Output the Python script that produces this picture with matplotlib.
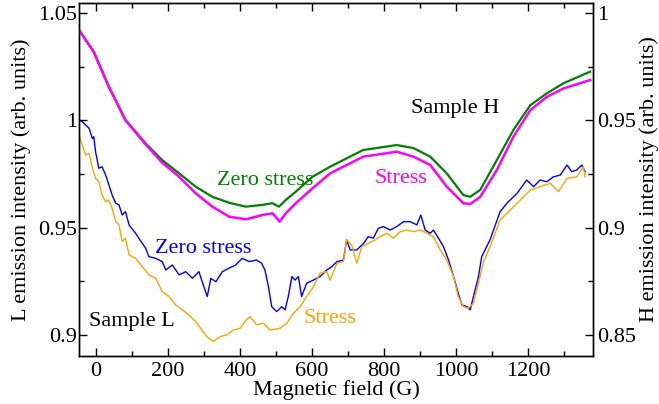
import matplotlib

matplotlib.use("Agg")

import matplotlib.pyplot as plt
from matplotlib.ticker import FuncFormatter, MultipleLocator

plt.rcParams["font.family"] = ["Liberation Serif", "DejaVu Serif"]
plt.rcParams["mathtext.fontset"] = "stix"

# Sample H (right axis), field in G
h_zero_x = [-47, -6, 36, 82, 138, 184, 231, 277, 323, 370, 416, 462, 490, 508,
            527, 555, 601, 650, 742, 835, 881, 928, 974, 1020, 1039, 1067,
            1113, 1159, 1206, 1252, 1298, 1372]
h_zero_y = [0.9921, 0.9820, 0.9657, 0.9502, 0.9393, 0.9315, 0.9253, 0.9191,
            0.9144, 0.9116, 0.9098, 0.9106, 0.9114, 0.9098, 0.9129, 0.9168,
            0.9237, 0.9284, 0.9362, 0.9385, 0.9371, 0.9331, 0.9253, 0.9152,
            0.9144, 0.9176, 0.9315, 0.9455, 0.9571, 0.9626, 0.9673, 0.9727]
h_stress_x = [-47, -6, 36, 82, 138, 184, 231, 277, 323, 370, 416, 462, 490,
              510, 527, 555, 601, 650, 742, 835, 881, 928, 974, 1020, 1039,
              1067, 1113, 1159, 1206, 1252, 1298, 1372]
h_stress_y = [0.9921, 0.9818, 0.9655, 0.9500, 0.9388, 0.9303, 0.9237, 0.9160,
              0.9098, 0.9051, 0.9039, 0.9059, 0.9067, 0.9028, 0.9067, 0.9114,
              0.9183, 0.9253, 0.9331, 0.9354, 0.9331, 0.9292, 0.9191, 0.9114,
              0.9110, 0.9144, 0.9269, 0.9424, 0.9548, 0.9610, 0.9649, 0.9688]

# Sample L (left axis)
l_zero_x = [-47, -38, -19, -10, -6, -1, 8, 17, 27, 36, 45, 55, 64, 73, 82, 92,
            110, 119, 138, 147, 166, 184, 194, 212, 231, 249, 268, 286, 295,
            309, 319, 333, 351, 369, 388, 406, 425, 446, 460, 469, 479, 488,
            502, 516, 525, 534, 544, 553, 562, 571, 585, 604, 622, 641, 655,
            669, 687, 696, 706, 724, 743, 756, 770, 784, 798, 817, 835, 854,
            872, 891, 902, 914, 928, 937, 951, 965, 979, 993, 1006, 1016, 1030,
            1039, 1048, 1062, 1071, 1094, 1122, 1141, 1169, 1196, 1215, 1233,
            1252, 1270, 1289, 1308, 1321, 1335, 1349, 1358]
l_zero_y = [1.0002, 0.9994, 0.9963, 0.9916, 0.9924, 0.9854, 0.9777, 0.9784,
            0.9745, 0.9699, 0.9652, 0.9614, 0.9606, 0.9559, 0.9575, 0.9513,
            0.9474, 0.9451, 0.9404, 0.9365, 0.9357, 0.9342, 0.9303, 0.9326,
            0.9280, 0.9295, 0.9264, 0.9295, 0.9248, 0.9179, 0.9264, 0.9248,
            0.9295, 0.9311, 0.9326, 0.9357, 0.9342, 0.9349, 0.9334, 0.9303,
            0.9225, 0.9132, 0.9109, 0.9132, 0.9117, 0.9179, 0.9272, 0.9256,
            0.9272, 0.9179, 0.9241, 0.9256, 0.9272, 0.9303, 0.9318, 0.9342,
            0.9349, 0.9443, 0.9396, 0.9396, 0.9427, 0.9458, 0.9451, 0.9497,
            0.9505, 0.9489, 0.9505, 0.9528, 0.9528, 0.9513, 0.9559, 0.9489,
            0.9474, 0.9489, 0.9451, 0.9411, 0.9349, 0.9272, 0.9194, 0.9140,
            0.9132, 0.9117, 0.9179, 0.9272, 0.9365, 0.9443, 0.9574, 0.9614,
            0.9660, 0.9722, 0.9691, 0.9722, 0.9714, 0.9737, 0.9745, 0.9792,
            0.9761, 0.9769, 0.9792, 0.9761]
l_stress_x = [-47, -38, -29, -19, -10, -1, 8, 17, 27, 36, 45, 55, 64, 73, 82,
              92, 110, 129, 147, 166, 184, 203, 221, 240, 258, 277, 308, 326,
              344, 363, 381, 400, 417, 428, 446, 465, 483, 511, 530, 548, 567,
              585, 604, 622, 641, 650, 669, 687, 696, 710, 724, 738, 756, 775,
              789, 808, 826, 844, 863, 881, 900, 919, 937, 956, 974, 993, 1006,
              1020, 1034, 1048, 1062, 1076, 1094, 1122, 1150, 1178, 1206, 1233,
              1261, 1284, 1308, 1335, 1353, 1358]
l_stress_y = [0.9932, 0.9885, 0.9839, 0.9847, 0.9777, 0.9730, 0.9714, 0.9652,
              0.9621, 0.9629, 0.9590, 0.9528, 0.9513, 0.9435, 0.9451, 0.9373,
              0.9357, 0.9318, 0.9280, 0.9264, 0.9202, 0.9179, 0.9140, 0.9117,
              0.9093, 0.9062, 0.8992, 0.8969, 0.8992, 0.9000, 0.9023, 0.9031,
              0.9070, 0.9085, 0.9047, 0.9055, 0.9023, 0.9031, 0.9055, 0.9101,
              0.9132, 0.9179, 0.9225, 0.9288, 0.9295, 0.9256, 0.9334, 0.9342,
              0.9443, 0.9419, 0.9334, 0.9411, 0.9427, 0.9443, 0.9458, 0.9474,
              0.9451, 0.9481, 0.9489, 0.9481, 0.9489, 0.9474, 0.9458, 0.9396,
              0.9349, 0.9272, 0.9179, 0.9132, 0.9125, 0.9148, 0.9241, 0.9342,
              0.9411, 0.9536, 0.9582, 0.9629, 0.9676, 0.9691, 0.9707, 0.9668,
              0.9730, 0.9737, 0.9784, 0.9737]

fs = 16
fmt = FuncFormatter(lambda v, pos: f"{v:g}")

fig = plt.figure(figsize=(6.59, 4.04), dpi=100)
ax = fig.add_axes([79 / 659, 1 - 356 / 404, 514 / 659, 353 / 404])
axr = ax.twinx()

ax.plot(l_zero_x, l_zero_y, color="#0000ff", lw=1.0)
ax.plot(l_stress_x, l_stress_y, color="#ffa500", lw=1.0)
axr.plot(h_zero_x, h_zero_y, color="#008000", lw=1.6)
axr.plot(h_stress_x, h_stress_y, color="#ff00ff", lw=1.8)

ax.set_xlim(-47, 1380)
ax.set_ylim(0.8902, 1.0547)
axr.set_ylim(0.8402, 1.0047)

ax.xaxis.set_major_locator(MultipleLocator(200))
ax.xaxis.set_minor_locator(MultipleLocator(100))
ax.yaxis.set_major_locator(MultipleLocator(0.05))
ax.yaxis.set_minor_locator(MultipleLocator(0.025))
axr.yaxis.set_major_locator(MultipleLocator(0.05))
axr.yaxis.set_minor_locator(MultipleLocator(0.025))
ax.yaxis.set_major_formatter(fmt)
axr.yaxis.set_major_formatter(fmt)

ax.tick_params(axis="x", which="both", direction="in", top=True, labelsize=fs, pad=4)
ax.tick_params(axis="y", which="both", direction="in", right=False, labelsize=fs, pad=1.5)
axr.tick_params(axis="y", which="both", direction="in", labelsize=fs, pad=3)
for a in (ax, axr):
    a.tick_params(which="major", length=6, width=1.0)
    a.tick_params(which="minor", length=3.5, width=1.0)
    for s in a.spines.values():
        s.set_linewidth(1.0)

ax.set_xlabel("Magnetic field (G)", fontsize=fs, labelpad=0)
ax.set_ylabel("L emission intensity (arb. units)", fontsize=fs, labelpad=5)
axr.set_ylabel("H emission intensity (arb. units)", fontsize=fs, labelpad=2)

ax.text(469, 0.9722, "Zero stress", color="#008000", fontsize=fs, ha="center", va="center")
ax.text(847, 0.9731, "Stress", color="#ff00ff", fontsize=fs, ha="center", va="center")
ax.text(997, 1.0057, "Sample H", color="black", fontsize=fs, ha="center", va="center")
ax.text(297, 0.9405, "Zero stress", color="#0000ff", fontsize=fs, ha="center", va="center")
ax.text(100, 0.9065, "Sample L", color="black", fontsize=fs, ha="center", va="center")
ax.text(650, 0.9079, "Stress", color="#ffa500", fontsize=fs, ha="center", va="center")

fig.savefig("out.png", dpi=100)
